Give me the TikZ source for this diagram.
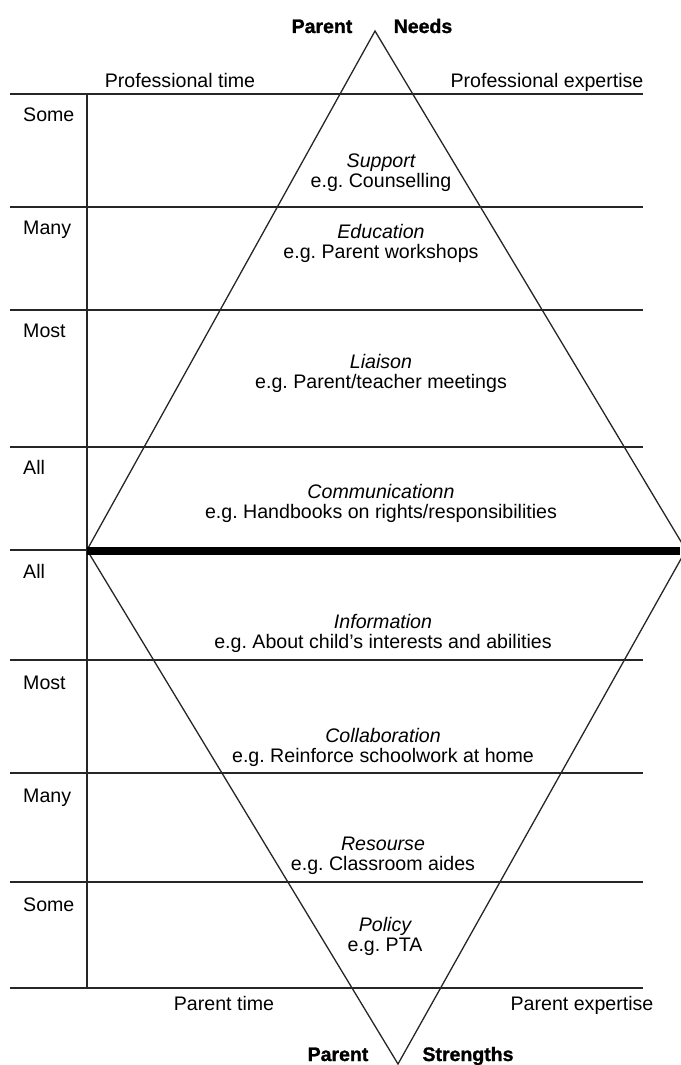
\documentclass[tikz,border=0pt]{standalone}
\usepackage{fontspec}
\setmainfont{Liberation Sans}
\newfontfamily\heavyfont[FakeBold=1.3]{Liberation Sans Bold}
\begin{document}
\frenchspacing
\begin{tikzpicture}[x=1pt,y=-1pt,
  thinline/.style={line width=1.3pt, draw=black!85},
  thickline/.style={line width=7.5pt, draw=black, line cap=butt},
  txt/.style={font=\fontsize{19.6}{21}\selectfont, anchor=base, inner sep=0pt},
  itxt/.style={txt, font=\fontsize{19.6}{21}\selectfont\itshape},
  lab/.style={txt, anchor=base west},
  head/.style={txt, font=\fontsize{19.5}{21}\selectfont\heavyfont}]
\useasboundingbox (0,0) rectangle (680,1065);
% key points
\coordinate (topapex) at (375,31);
\coordinate (lv) at (87,550);
\coordinate (rv) at (686,550);
\coordinate (botapex) at (398,1064);
% horizontal band lines
\foreach \y/\n in {94/a,207/b,310/c,447/d,660/f,773/g,882/h,988/i}{
  \coordinate (L\n) at (10,\y);
  \coordinate (R\n) at (643,\y);
  \draw[thinline] (L\n) -- (R\n);
}
\coordinate (Le) at (10,550);
\draw[thinline] (Le) -- (lv);
% vertical axis
\coordinate (vtop) at (87,94);
\coordinate (vbot) at (87,988);
\draw[thinline] (vtop) -- (vbot);
% diamond
\draw[thinline] (lv) -- (topapex) -- (rv);
\draw[thinline] (lv) -- (botapex) -- (rv);
% thick middle line
\coordinate (lthick) at (87,551);
\coordinate (redge) at (680,551);
\draw[thickline] (lthick) -- (redge);
% headings
\node[head] (pn) at (322,33) {Parent};
\node[head] (nd) at (423,33) {Needs};
\node[head] (ps) at (338,1061) {Parent};
\node[head] (st) at (468,1061) {Strengths};
\node[txt] (pt) at (180,87) {Professional time};
\node[txt] (pe) at (547,87) {Professional expertise};
\node[txt] (ptm) at (224,1010) {Parent time};
\node[txt] (pex) at (582,1010) {Parent expertise};
% left labels
\node[lab] (l1) at (23,121) {Some};
\node[lab] (l2) at (23,234) {Many};
\node[lab] (l3) at (23,337) {Most};
\node[lab] (l4) at (23,474) {All};
\node[lab] (l5) at (23,578) {All};
\node[lab] (l6) at (23,689) {Most};
\node[lab] (l7) at (23,802) {Many};
\node[lab] (l8) at (23,911) {Some};
% band texts
\node[itxt] (s1) at (381,167) {Support};
\node[txt] (s2) at (381,187) {e.g. Counselling};
\node[itxt] (e1) at (381,238) {Education};
\node[txt] (e2) at (381,258) {e.g. Parent workshops};
\node[itxt] (li1) at (381,368) {Liaison};
\node[txt] (li2) at (381,388) {e.g. Parent/teacher meetings};
\node[itxt] (c1) at (381,498) {Communicationn};
\node[txt] (c2) at (381,518) {e.g. Handbooks on rights/responsibilities};
\node[itxt] (i1) at (383,628) {Information};
\node[txt] (i2) at (383,648) {e.g. About child’s interests and abilities};
\node[itxt] (co1) at (383,742) {Collaboration};
\node[txt] (co2) at (383,762) {e.g. Reinforce schoolwork at home};
\node[itxt] (r1) at (383,850) {Resourse};
\node[txt] (r2) at (383,870) {e.g. Classroom aides};
\node[itxt] (po1) at (385,931) {Policy};
\node[txt] (po2) at (385,951) {e.g. PTA};
\end{tikzpicture}
\end{document}
